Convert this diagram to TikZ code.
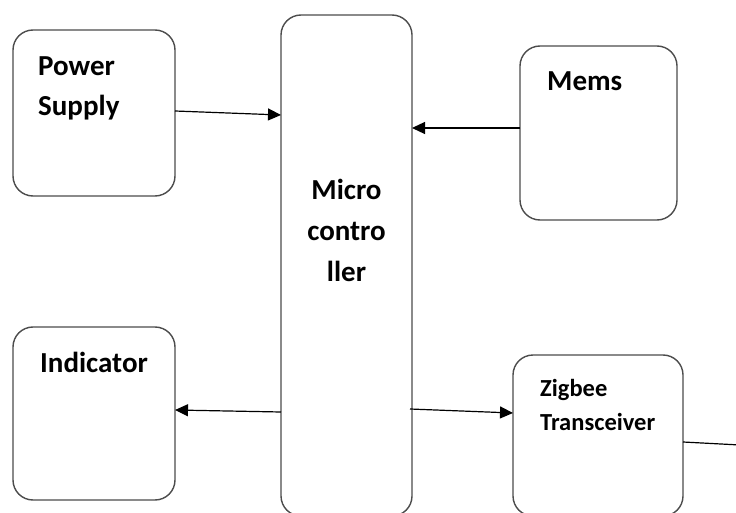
\documentclass[tikz,border=0pt]{standalone}
\usepackage{fontspec}
\setmainfont{Carlito}
\usetikzlibrary{arrows.meta}

\tikzset{
    blk/.style={thick, shape=rectangle, draw=black!70, line width=1.4pt, rounded corners=20pt, inner sep=0pt, outer sep=0pt},
    txt/.style={align=left, anchor=west, inner sep=0pt, font=\bfseries\fontsize{29}{40}\selectfont},
    arr/.style={line width=1.2pt, -{Triangle[length=13pt,width=12pt]}},
}

\begin{document}
\begin{tikzpicture}[x=1pt, y=-1pt]
    \clip (0,0) rectangle (736,513);
    \fill[white] (0,0) rectangle (736,513);
    % blocks
    \node[blk, minimum width=162, minimum height=166](pwr)  at (94,113) {};
    \node[blk, minimum width=131, minimum height=501](mcu)  at (346.5,265.5) {};
    \node[blk, minimum width=157, minimum height=174](mems) at (598.5,133) {};
    \node[blk, minimum width=162, minimum height=173](ind)  at (94,413.5) {};
    \node[blk, minimum width=170, minimum height=161](zig)  at (598,435.5) {};
    % block texts
    \node[txt] (pwrlbl)  at (38,88)   {Power\\Supply};
    \node[txt, align=center, anchor=center, font=\bfseries\fontsize{29}{41}\selectfont] (mculbl) at (346.5,230) {Micro\\contro\\ller};
    \node[txt] (memslbl) at (547,81)  {Mems};
    \node[txt] (indlbl)  at (40,362)  {Indicator};
    \node[txt, font=\bfseries\fontsize{24.5}{34}\selectfont] (ziglbl) at (540,405) {Zigbee\\Transceiver};
    % connections
    \coordinate (zigout) at (740,445);
    \draw[arr] ([yshift=2pt]pwr.east) -- (mcu.west |- 0,115);
    \draw[arr] (mems.west |- 0,128) -- (mcu.east |- 0,128);
    \draw[arr] (mcu.west |- 0,412) -- (ind.east |- 0,410);
    \draw[arr] ([xshift=-2pt]mcu.east |- 0,409) -- (zig.west |- 0,413);
    \draw[line width=1.2pt] (zig.east |- 0,442) -- (zigout);
\end{tikzpicture}
\end{document}
